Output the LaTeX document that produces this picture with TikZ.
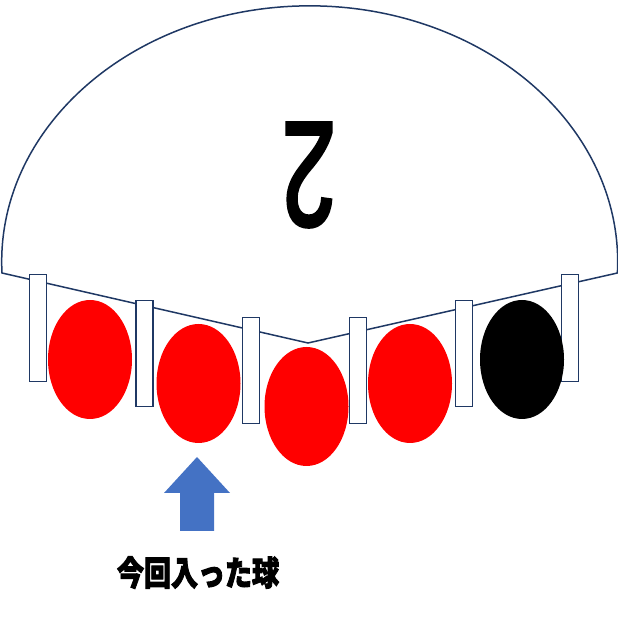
\documentclass[tikz,border=0pt]{standalone}
\usepackage{fontspec}
\usetikzlibrary{shapes.geometric}
\newfontfamily\digitfont{Liberation Sans}[FakeBold=2.5]
\newfontfamily\cjk{Noto Sans CJK JP}[BoldFeatures={FakeBold=3}]
\definecolor{domenavy}{HTML}{1F3864}
\definecolor{ballred}{HTML}{FF0000}
\definecolor{arrowblue}{HTML}{4472C4}
\begin{document}
\begin{tikzpicture}[
  x=1pt, y=1pt,
  dome/.style={draw=domenavy, line width=1.5pt, fill=white},
  peg/.style={draw=domenavy, line width=1.8pt, fill=white, minimum width=17pt, minimum height=106pt, inner sep=0pt},
  ball/.style={ellipse, fill=ballred, minimum width=84pt, minimum height=119pt, inner sep=0pt},
  blackball/.style={ball, fill=black},
  pointer/.style={fill=arrowblue},
  digit/.style={font=\digitfont\fontsize{149}{149}\selectfont, inner sep=0pt, rotate=180, xscale=0.66},
  caption/.style={font=\cjk\bfseries\fontsize{27}{27}\selectfont, inner sep=0pt, yscale=1.25}
]
\useasboundingbox (0,0) rectangle (618,618);
\draw[dome] (2,345) arc[start angle=182.5, end angle=-2.5, x radius=308, y radius=256] -- (308,275) -- cycle;
\node[digit] (number) at (309,443) {2};

\node[peg, minimum height=107pt] (peg1) at (38,290) {};
\node[peg] (peg2) at (144.5,264.5) {};
\node[peg] (peg3) at (251,247.5) {};
\node[peg] (peg4) at (358,247.5) {};
\node[peg] (peg5) at (464,264.5) {};
\node[peg, minimum height=107pt] (peg6) at (570,290) {};

\node[ball] (ball1) at (90,258.5) {};
\node[ball] (ball2) at (198.5,234.5) {};
\node[ball] (ball3) at (306.5,211.5) {};
\node[ball] (ball4) at (410,234.5) {};
\node[blackball] (ball5) at (522,258.5) {};

\fill[pointer] (180,87) -- (214,87) -- (214,125) -- (230,125) -- (197,161) -- (164,125) -- (180,125) -- cycle;
\node[caption] (label) at (198,45.5) {今回入った球};
\end{tikzpicture}
\end{document}
